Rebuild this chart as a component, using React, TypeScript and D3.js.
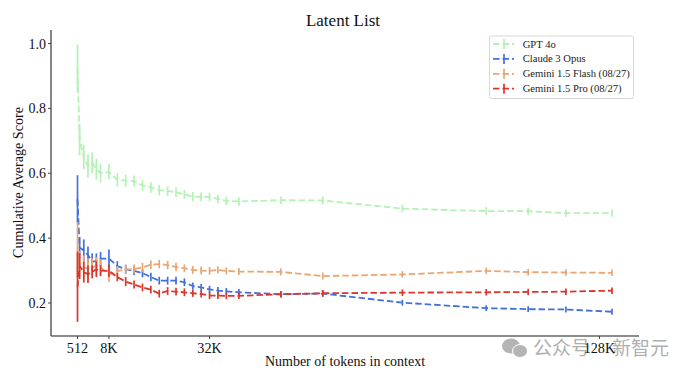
import React from "react";
import * as d3 from "d3";

const tokensK = [0.5,1,2,3,4,5,6,8,10,12,14,16,18,20,22,24,26,28,30,32,34,36,39,49,59,78,98,108,117,128];
const gptMean = [0.925,0.704,0.65,0.622,0.632,0.613,0.6,0.605,0.58,0.577,0.576,0.562,0.556,0.548,0.545,0.542,0.535,0.528,0.527,0.527,0.52,0.515,0.513,0.517,0.516,0.491,0.483,0.483,0.477,0.477];
const gptErr = [0.072,0.049,0.038,0.036,0.032,0.032,0.028,0.024,0.021,0.019,0.017,0.017,0.016,0.016,0.015,0.015,0.014,0.014,0.014,0.013,0.013,0.013,0.013,0.012,0.012,0.012,0.012,0.011,0.011,0.011];
const claudeMean = [0.52,0.371,0.362,0.348,0.327,0.33,0.337,0.337,0.314,0.304,0.299,0.292,0.28,0.269,0.269,0.269,0.264,0.252,0.248,0.242,0.238,0.236,0.233,0.227,0.229,0.201,0.184,0.181,0.18,0.173];
const claudeErr = [0.074,0.033,0.034,0.026,0.026,0.023,0.02,0.028,0.015,0.014,0.013,0.013,0.013,0.012,0.012,0.012,0.012,0.011,0.011,0.011,0.011,0.01,0.01,0.01,0.01,0.009,0.009,0.009,0.009,0.009];
const flashMean = [0.365,0.32,0.31,0.305,0.31,0.315,0.31,0.287,0.298,0.303,0.305,0.31,0.318,0.32,0.317,0.311,0.307,0.302,0.3,0.299,0.302,0.299,0.297,0.296,0.283,0.288,0.299,0.295,0.294,0.293];
const flashErr = [0.085,0.04,0.036,0.032,0.028,0.027,0.025,0.022,0.016,0.014,0.014,0.014,0.013,0.013,0.013,0.013,0.012,0.012,0.012,0.012,0.011,0.011,0.011,0.011,0.011,0.01,0.01,0.01,0.01,0.01];
const proMean = [0.25,0.314,0.295,0.289,0.296,0.304,0.3,0.299,0.28,0.266,0.257,0.248,0.241,0.229,0.237,0.235,0.233,0.23,0.228,0.223,0.223,0.222,0.222,0.227,0.23,0.232,0.233,0.234,0.235,0.238];
const proErr = [0.108,0.04,0.032,0.027,0.02,0.024,0.017,0.019,0.013,0.014,0.012,0.012,0.012,0.012,0.012,0.012,0.012,0.011,0.011,0.011,0.011,0.01,0.01,0.01,0.01,0.01,0.01,0.01,0.01,0.01];

const seriesNames = ["GPT 4o", "Claude 3 Opus", "Gemini 1.5 Flash (08/27)", "Gemini 1.5 Pro (08/27)"];
const seriesMeans = [gptMean, claudeMean, flashMean, proMean];
const seriesErrs = [gptErr, claudeErr, flashErr, proErr];
const seriesColors = ["#b4f1b4", "#4370dc", "#e9a672", "#d9362c"];

const yTicks = [0.2, 0.4, 0.6, 0.8, 1.0];
const xTickValues = [0.5, 8, 32, 125];
const xTickLabels = ["512", "8K", "32K", "128K"];

const serif = "'Liberation Serif', 'Times New Roman', serif";
const cjk = "'Noto Sans CJK SC', sans-serif";

export default function App() {
  const x = d3.scaleLinear().domain([0.5, 128]).range([77.5, 612]);
  const y = d3.scaleLinear().domain([0.2, 1]).range([303, 43.5]);
  const line = d3.line<number>().x((_, i) => x(tokensK[i])).y((d) => y(d));
  const left = 51, bottom = 336, top = 30, right = 639;
  return (
    <svg width={693} height={377} style={{ position: "absolute", left: 0, top: 0, background: "#fff" }}>
      <text x={343} y={26} textAnchor="middle" fontFamily={serif} fontSize={17} fill="#111">Latent List</text>

      {seriesNames.map((name, s) => (
        <g key={name} stroke={seriesColors[s]} fill="none">
          <path d={line(seriesMeans[s]) ?? ""} strokeWidth={1.8} strokeDasharray="6.5 3" />
          {seriesMeans[s].map((m, i) => (
            <line key={i} x1={x(tokensK[i])} x2={x(tokensK[i])} y1={y(m - seriesErrs[s][i])} y2={y(m + seriesErrs[s][i])} strokeWidth={1.7} />
          ))}
        </g>
      ))}

      <line x1={left} x2={left} y1={top} y2={bottom} stroke="#666" strokeWidth={1.6} />
      <line x1={left} x2={right} y1={bottom} y2={bottom} stroke="#666" strokeWidth={1.6} />
      {yTicks.map((t) => (
        <g key={t}>
          <line x1={left - 3} x2={left} y1={y(t)} y2={y(t)} stroke="#444" strokeWidth={1} />
          <text x={left - 5} y={y(t) + 5} textAnchor="end" fontFamily={serif} fontSize={14} fill="#111">{t.toFixed(1)}</text>
        </g>
      ))}

      {/* watermark */}
      <g fill="#b4b4b4">
        <ellipse cx={511} cy={346} rx={9} ry={7.5} />
        <ellipse cx={520} cy={351} rx={7.5} ry={6.5} stroke="#fff" strokeWidth={1} />
      </g>
      <text x={533} y={355} fontFamily={cjk} fontSize={19} fill="#b0b0b0">公众号</text>
      <text x={612} y={355} fontFamily={cjk} fontSize={19} fill="#b0b0b0">新智元</text>

      {xTickValues.map((t, i) => (
        <g key={t}>
          <line x1={x(t)} x2={x(t)} y1={bottom} y2={bottom + 3} stroke="#444" strokeWidth={1} />
          <text x={x(t)} y={353} textAnchor="middle" fontFamily={serif} fontSize={14.2} fill="#111">{xTickLabels[i]}</text>
        </g>
      ))}
      <text x={345} y={366} textAnchor="middle" fontFamily={serif} fontSize={14} fill="#111">Number of tokens in context</text>
      <text transform="translate(23,182.5) rotate(-90)" textAnchor="middle" fontFamily={serif} fontSize={14.1} fill="#111">Cumulative Average Score</text>

      <rect x={489.5} y={36} width={144} height={62.5} rx={2} fill="#fff" stroke="#d8d8d8" strokeWidth={1} />
      {seriesNames.map((name, s) => {
        const ly = 44 + s * 14.9;
        return (
          <g key={name}>
            <line x1={493} x2={514} y1={ly} y2={ly} stroke={seriesColors[s]} strokeWidth={1.8} strokeDasharray="6.5 3" />
            <line x1={504} x2={504} y1={ly - 5} y2={ly + 5} stroke={seriesColors[s]} strokeWidth={1.7} />
            <text x={522.7} y={ly + 3.5} fontFamily={serif} fontSize={10.6} fill="#222">{name}</text>
          </g>
        );
      })}
    </svg>
  );
}
